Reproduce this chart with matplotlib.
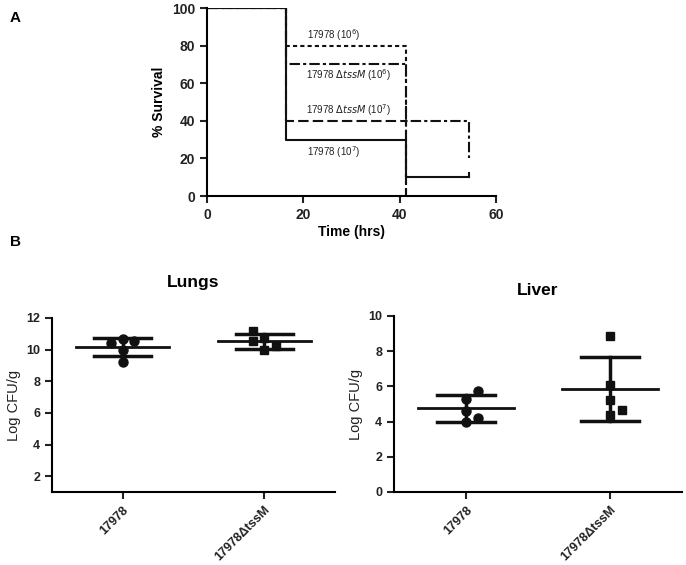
import matplotlib
matplotlib.use("Agg")
import matplotlib.pyplot as plt
import numpy as np

plt.rcParams['font.family'] = ['Liberation Sans', 'DejaVu Sans']

# ---- Panel A data (Kaplan-Meier style survival) ----
t_wt_1e7 = [0, 16.3, 41.3, 54.3]
s_wt_1e7 = [100, 30, 10, 10]
t_wt_1e6 = [0, 16.3, 41.3]
s_wt_1e6 = [100, 80, 0]
t_mut_1e6 = [0, 16.3, 41.3, 54.3]
s_mut_1e6 = [100, 70, 40, 20]
t_mut_1e7 = [0, 16.3, 41.3]
s_mut_1e7 = [100, 40, 0]

# ---- Panel B data ----
groups = ["17978", "17978\u0394tssM"]
lungs_wt = [10.7, 10.4, 10.55, 9.95, 9.25]
lungs_mut = [11.15, 10.55, 10.75, 10.0, 10.2]
liver_wt = [5.75, 5.3, 4.6, 4.2, 3.95]
liver_mut = [8.85, 6.1, 5.25, 4.35, 4.65]
lungs_wt_jit = [0, -0.08, 0.08, 0, 0]
lungs_mut_jit = [-0.08, -0.08, 0, 0, 0.08]
liver_wt_jit = [0.08, 0, 0, 0.08, 0]
liver_mut_jit = [0, 0, 0, 0, 0.08]
lungs_wt_stats = (10.17, 10.75, 9.6)
lungs_mut_stats = (10.53, 11.0, 10.05)
liver_wt_stats = (4.77, 5.5, 4.0)
liver_mut_stats = (5.85, 7.65, 4.05)

W, H = 686, 565
fig = plt.figure(figsize=(W/100, H/100), dpi=100)

def style(ax, fs):
    for s in ['top', 'right']:
        ax.spines[s].set_visible(False)
    for s in ['left', 'bottom']:
        ax.spines[s].set_linewidth(1.5)
    ax.tick_params(direction='out', length=5, width=1.5, labelsize=fs, colors='#222222')
    for lab in ax.get_xticklabels() + ax.get_yticklabels():
        lab.set_fontweight('bold')

# ---- Panel A ----
axA = fig.add_axes([207/W, 1-196/H, 289/W, 188/H])
def stepline(t, s, ls):
    axA.step(list(t) + [t[-1]], list(s) + [s[-1]], where='post', color='#111111', lw=1.5, ls=ls)
stepline(t_wt_1e6, s_wt_1e6, (0, (2, 1.5)))
stepline(t_mut_1e7, s_mut_1e7, (0, (5, 2)))
stepline(t_mut_1e6, s_mut_1e6, (0, (5, 1.5, 1.5, 1.5)))
stepline(t_wt_1e7, s_wt_1e7, '-')
axA.plot([t_wt_1e7[-1]]*2, [s_wt_1e7[-1], s_wt_1e7[-1] + 2], color='#111111', lw=1.5)
axA.set_xlim(0, 60)
axA.set_ylim(0, 100)
axA.set_xticks([0, 20, 40, 60])
axA.set_yticks([0, 20, 40, 60, 80, 100])
axA.set_xlabel("Time (hrs)", fontsize=10, fontweight='bold', labelpad=2)
axA.set_ylabel("% Survival", fontsize=10, fontweight='bold')
style(axA, 10)
afs = 7
axA.text(20.8, 85.6, "17978 (10$^{6}$)", fontsize=afs, va='center', color='#222222')
axA.text(20.6, 64.4, "17978 $\\Delta$$\\it{tssM}$ (10$^{6}$)", fontsize=afs, va='center', color='#222222')
axA.text(20.6, 45.7, "17978 $\\Delta$$\\it{tssM}$ (10$^{7}$)", fontsize=afs, va='center', color='#222222')
axA.text(20.8, 23.4, "17978 (10$^{7}$)", fontsize=afs, va='center', color='#222222')
fig.text(10/W, 1-18/H, "A", fontsize=11, fontweight='bold', va='center')
fig.text(10/W, 1-242/H, "B", fontsize=11, fontweight='bold', va='center')

# ---- Panel B ----
def dotplot(ax, wt, mut, jw, jm, sw, sm):
    x = np.arange(len(groups))
    ax.plot(x[0] + np.array(jw), wt, 'o', color='#111111', ms=6.5)
    ax.plot(x[1] + np.array(jm), mut, 's', color='#111111', ms=6)
    for xi, st in zip(x, [sw, sm]):
        m, hi, lo = st
        ax.plot([xi - 0.33, xi + 0.33], [m, m], color='#111111', lw=2)
        ax.plot([xi - 0.2, xi + 0.2], [hi, hi], color='#111111', lw=2.5)
        ax.plot([xi - 0.2, xi + 0.2], [lo, lo], color='#111111', lw=2.5)
        ax.plot([xi, xi], [lo, hi], color='#111111', lw=2.5)
    ax.set_xlim(-0.5, 1.5)
    ax.set_xticks(x)
    ax.set_xticklabels(groups, rotation=45, ha='right', rotation_mode='anchor')
    ax.set_ylabel("Log CFU/g", fontsize=10.5, color='#222222')
    style(ax, 9)

axL = fig.add_axes([52/W, 1-492/H, 283/W, 174/H])
dotplot(axL, lungs_wt, lungs_mut, lungs_wt_jit, lungs_mut_jit, lungs_wt_stats, lungs_mut_stats)
axL.set_ylim(1, 12)
axL.set_yticks([2, 4, 6, 8, 10, 12])
axL.set_title("Lungs", fontsize=12.5, fontweight='bold', pad=22)

axV = fig.add_axes([394/W, 1-492/H, 288/W, 176/H])
dotplot(axV, liver_wt, liver_mut, liver_wt_jit, liver_mut_jit, liver_wt_stats, liver_mut_stats)
axV.set_ylim(0, 10)
axV.set_yticks([0, 2, 4, 6, 8, 10])
axV.set_title("Liver", fontsize=12.5, fontweight='bold', pad=15)

fig.savefig("out.png", dpi=100)
